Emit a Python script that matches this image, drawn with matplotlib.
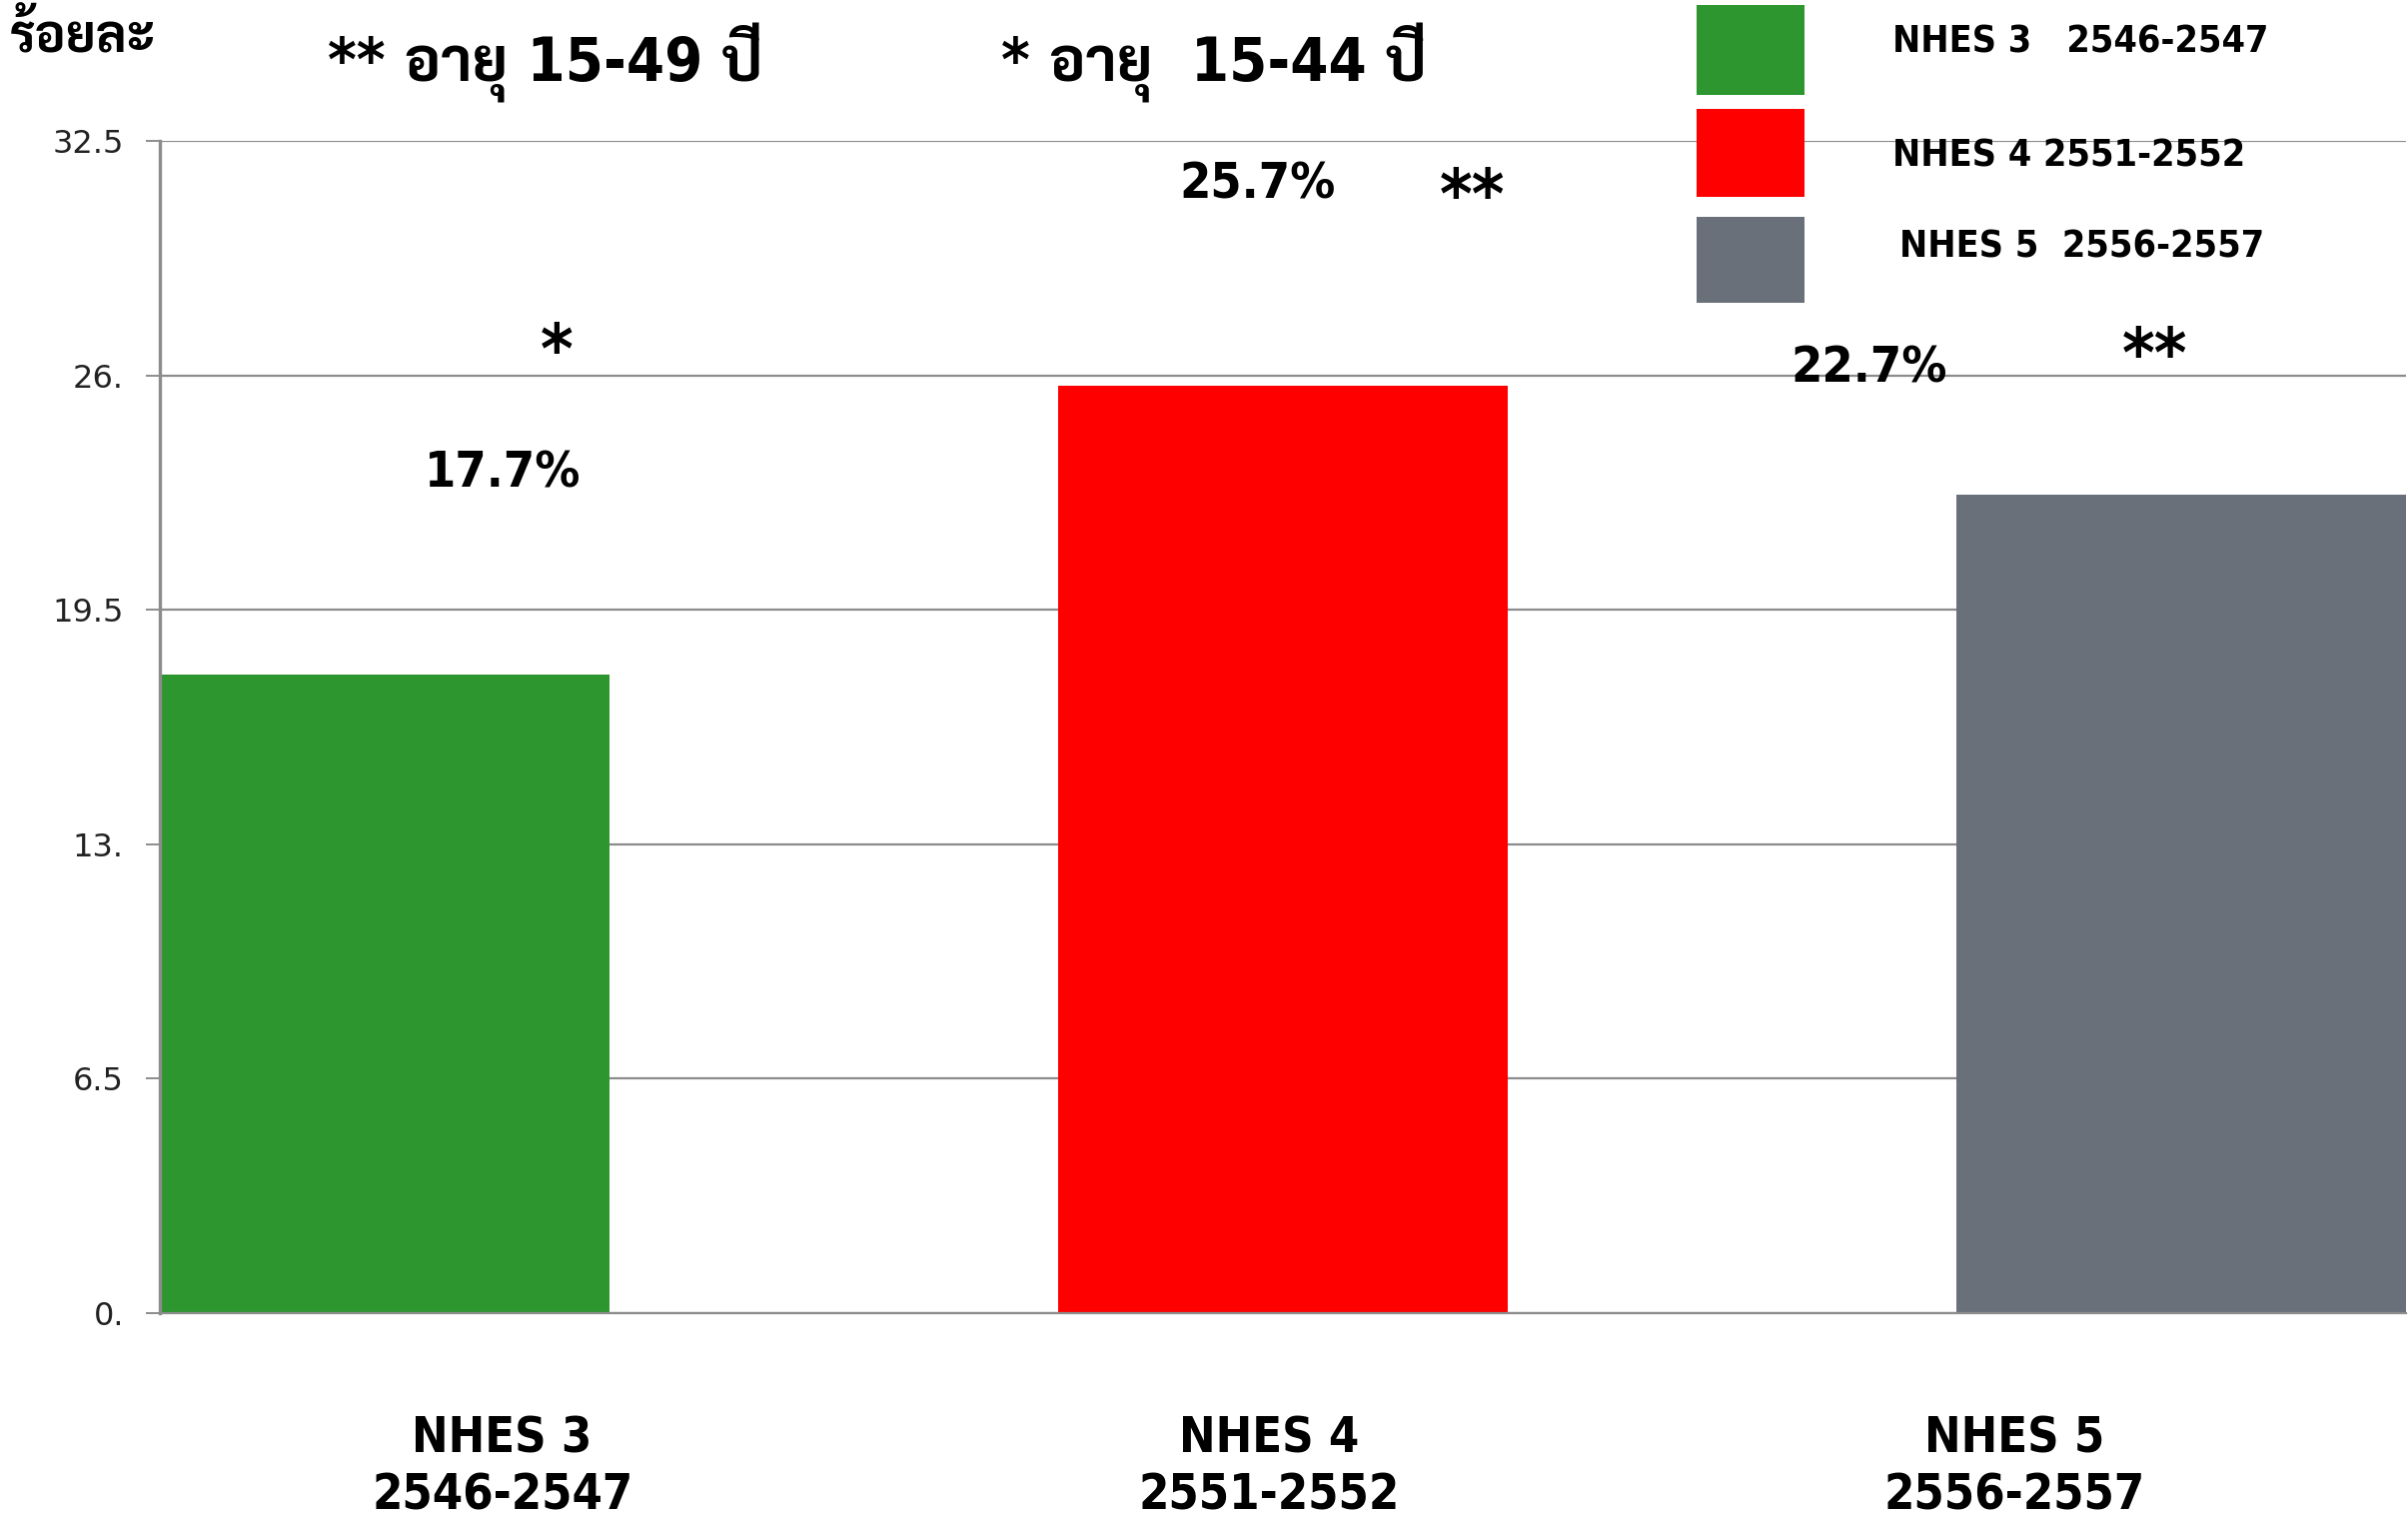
import matplotlib
matplotlib.use('Agg')
import matplotlib.pyplot as plt
from matplotlib.patches import Rectangle

# data
surveys = ['NHES 3', 'NHES 4', 'NHES 5']
years = ['2546-2547', '2551-2552', '2556-2557']
values = [17.7, 25.7, 22.7]
colors = ['#2D962F', '#FF0000', '#6A7079']
value_labels = ['17.7%', '25.7%', '22.7%']
stars = ['*', '**', '**']
legend_labels = ['NHES 3   2546-2547', 'NHES 4 2551-2552', 'NHES 5  2556-2557']
yticks = [0, 6.5, 13, 19.5, 26, 32.5]
ytick_labels = ['0.', '6.5', '13.', '19.5', '26.', '32.5']

fam = ['DejaVu Sans', 'Sarabun', 'Noto Sans Thai Looped', 'Noto Sans Thai']
bold = dict(family=fam, fontweight='bold', fontstretch='condensed', color='black')

fig = plt.figure(figsize=(24.1, 15.17), dpi=100)
ax = fig.add_axes([0.0664, 0.1338, 0.9328, 0.7733])

x = list(range(len(values)))
ax.bar(x, values, width=0.5, color=colors, zorder=2)
ax.set_xlim(-0.25, 2.25)
ax.set_ylim(0, 32.5)
ax.set_yticks(yticks)
ax.set_yticklabels(ytick_labels)
ax.yaxis.grid(True, color='#8c8c8c', linewidth=1.6, zorder=0)
ax.set_axisbelow(True)
ax.tick_params(axis='y', length=10, width=1.4, color='#8c8c8c', labelsize=23,
               labelcolor='#222222', pad=16)
for lab in ax.get_yticklabels():
    lab.set_family('DejaVu Sans')

# category labels sit off-centre from the bars in the original
cat_pos = [0.131, 0.984, 1.814]
ax.set_xticks(cat_pos)
ax.set_xticklabels([s + '\n' + y for s, y in zip(surveys, years)],
                   fontsize=35, fontweight='bold', fontstretch='condensed',
                   linespacing=1.25)
ax.tick_params(axis='x', length=0, pad=73)

for sp in ['top', 'right']:
    ax.spines[sp].set_visible(False)
ax.spines['left'].set_color('#8c8c8c')
ax.spines['left'].set_linewidth(2.4)
ax.spines['bottom'].set_color('#8c8c8c')
ax.spines['bottom'].set_linewidth(1.6)

# value labels and asterisks
val_pos = [(0.131, 23.3), (0.972, 31.3), (1.652, 26.2)]
star_pos = [(0.192, 26.6), (1.211, 30.9), (1.97, 26.5)]
for (vx, vy), t in zip(val_pos, value_labels):
    ax.text(vx, vy, t, ha='center', va='center', fontsize=36, **bold)
for (sx, sy), t in zip(star_pos, stars):
    ax.text(sx, sy, t, ha='center', va='center', fontsize=50, **bold)

# header texts
fig.text(0.004, 0.9745, 'ร้อยละ', ha='left', va='center', fontsize=37, **bold)
fig.text(0.2266, 0.9585, '** อายุ 15-49 ปี', ha='center', va='center', fontsize=44, **bold)
fig.text(0.504, 0.9585, '* อายุ  15-44 ปี', ha='center', va='center', fontsize=44, **bold)

# legend swatches
sw = [(0.9374, 0.0593), (0.8701, 0.0580), (0.8003, 0.0567)]
lab_xy = [(0.786, 0.972), (0.786, 0.897), (0.789, 0.837)]
for (b, h), c in zip(sw, colors):
    fig.patches.append(Rectangle((0.7046, b), 0.0448, h, transform=fig.transFigure,
                                 facecolor=c, edgecolor='none'))
for (lx, ly), t in zip(lab_xy, legend_labels):
    fig.text(lx, ly, t, ha='left', va='center', fontsize=27, **bold)

fig.savefig('out.png', dpi=100)
